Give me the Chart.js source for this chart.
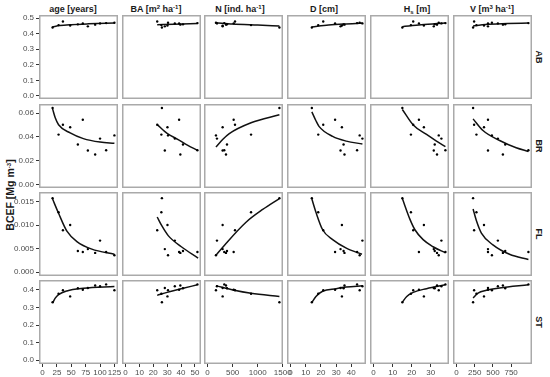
<!DOCTYPE html>
<html><head><meta charset="utf-8">
<script src="https://cdn.jsdelivr.net/npm/chart.js@4.4.0/dist/chart.umd.min.js"></script>
<style>
body{margin:0;width:550px;height:377px;background:#fff;position:relative;overflow:hidden;font-family:"Liberation Sans",Arial,sans-serif;color:#1a1a1a}
canvas{position:absolute}
.ct{position:absolute;top:4px;font-weight:bold;font-size:9px;line-height:11px;transform:translateX(-50%);white-space:nowrap}
.sl{position:absolute;left:539px;font-weight:bold;font-size:9px;line-height:10px;transform:translate(-50%,-50%) rotate(90deg);white-space:nowrap}
.yt{position:absolute;left:10px;top:195px;font-weight:bold;font-size:10.5px;line-height:12px;transform:translate(-50%,-50%) rotate(-90deg);white-space:nowrap}
sup{font-size:6px;vertical-align:3px;line-height:0}
sub{font-size:6px;vertical-align:-2px;line-height:0}
</style>
</head><body>
<div class="ct" style="left:73px">age [years]</div>
<div class="ct" style="left:156px">BA [m<sup>2</sup> ha<sup>-1</sup>]</div>
<div class="ct" style="left:240px">N [ind. ha<sup>-1</sup>]</div>
<div class="ct" style="left:324px">D [cm]</div>
<div class="ct" style="left:417px">H<sub>s</sub> [m]</div>
<div class="ct" style="left:492px">V [m<sup>3</sup> ha<sup>-1</sup>]</div>
<div class="sl" style="top:57px">AB</div>
<div class="sl" style="top:146px">BR</div>
<div class="sl" style="top:234px">FL</div>
<div class="sl" style="top:322px">ST</div>
<div class="yt">BCEF [Mg m<sup>-3</sup>]</div>
<script>
// ---- stand (site) predictors ----
const siteAge = [17.4, 27.8, 35.4, 48, 61.4, 70, 78.8, 91.5, 100, 110.6, 125];
const siteBA  = [26.2, 25.8, 22.8, 30.2, 41.4, 38.6, 28.3, 39.5, 35.5, 51.8, 30.6];
const siteN   = [1433, 867, 547, 300, 387, 520, 300, 367, 187, 333, 167];
const siteD   = [14, 18.2, 21.5, 33.8, 34.9, 29.3, 32.9, 35.5, 47.3, 43.8, 45.5];
const siteHs  = [15.1, 19.6, 20.8, 26.4, 32.1, 23.8, 31.6, 33.3, 35.6, 37.7, 34.2];
const siteV   = [227, 273, 241, 377, 669, 432, 432, 637, 568, 988, 486];

// ---- BCEF per component ----
const bcefAB = [0.440, 0.455, 0.478, 0.452, 0.460, 0.466, 0.447, 0.458, 0.466, 0.468, 0.470];
const bcefBR = [0.0642, 0.0419, 0.0502, 0.0480, 0.0335, 0.0544, 0.0285, 0.0251, 0.0385, 0.0287, 0.0412];
const bcefFL = [0.0157, 0.0127, 0.0089, 0.0100, 0.0045, 0.0043, 0.0049, 0.0041, 0.0067, 0.0043, 0.0036];
const bcefST = [0.329, 0.377, 0.397, 0.362, 0.408, 0.400, 0.410, 0.424, 0.420, 0.430, 0.397];

// ---- fitted curves ----
const fitAB = {
  age: [[17,0.443],[30,0.452],[50,0.458],[80,0.463],[125,0.468]],
  BA:  [[22.8,0.457],[35,0.461],[51.8,0.466]],
  N:   [[167,0.470],[500,0.462],[1000,0.455],[1433,0.449]],
  D:   [[14,0.443],[25,0.455],[35,0.462],[47.3,0.468]],
  Hs:  [[15.1,0.445],[25,0.457],[37.7,0.469]],
  V:   [[227,0.450],[400,0.459],[700,0.465],[988,0.469]]
};
const fitBR = {
  age: [[17.4,0.0635],[22,0.056],[27.8,0.0502],[48,0.0433],[71,0.0385],[100,0.0356],[125,0.0346]],
  BA:  [[22.8,0.0503],[30.2,0.0427],[37.9,0.0377],[44.9,0.0329],[51.8,0.0287]],
  N:   [[167,0.0315],[300,0.0377],[433,0.0427],[867,0.0518],[1433,0.0586]],
  D:   [[14,0.061],[16.7,0.0535],[18.7,0.0488],[27.7,0.0404],[36.7,0.0364],[47.3,0.034]],
  Hs:  [[15.1,0.063],[20.8,0.050],[27.8,0.042],[33,0.0364],[37.7,0.0318]],
  V:   [[227,0.0551],[363,0.0453],[592,0.0369],[820,0.0308],[988,0.0277]]
};
const fitFL = {
  age: [[17.4,0.0155],[27.8,0.0125],[42.3,0.0087],[59.7,0.0065],[85.7,0.0049],[125,0.0038]],
  BA:  [[22.8,0.0117],[26.2,0.0098],[30.9,0.0077],[40.2,0.0054],[52.3,0.0030]],
  N:   [[167,0.0036],[367,0.0061],[767,0.0106],[1100,0.0133],[1433,0.0156]],
  D:   [[14,0.0155],[16.7,0.0127],[21.1,0.0090],[27.7,0.0069],[36.7,0.0051],[47,0.0038]],
  Hs:  [[15.1,0.0156],[19.1,0.0112],[21.7,0.0090],[26,0.0069],[31.2,0.0054],[37.7,0.0041]],
  V:   [[227,0.0134],[273,0.0109],[341,0.0083],[500,0.0058],[728,0.0038],[988,0.0027]]
};
const fitST = {
  age: [[17.4,0.325],[22,0.352],[27.8,0.372],[42.3,0.393],[71,0.408],[125,0.418]],
  BA:  [[22.8,0.368],[30,0.385],[40,0.405],[51.8,0.428]],
  N:   [[167,0.423],[533,0.397],[867,0.380],[1433,0.362]],
  D:   [[14,0.327],[16.7,0.362],[21.1,0.391],[30,0.406],[36.7,0.415],[47.3,0.422]],
  Hs:  [[15.1,0.329],[17.4,0.362],[20.8,0.385],[27.8,0.406],[37.7,0.428]],
  V:   [[227,0.353],[295,0.381],[410,0.397],[592,0.410],[988,0.428]]
};

// ---- axis ticks ----
const xTicksAge = [0,25,50,75,100,125];
const xTicksBA  = [0,10,20,30,40,50];
const xTicksN   = [0,500,1000,1500];
const xTicksD   = [0,10,20,30,40];
const xTicksHs  = [0,10,20,30];
const xTicksV   = [0,250,500,750];
const yTicksAB = [0,0.1,0.2,0.3,0.4,0.5];
const yLabelsAB = ["0.0","0.1","0.2","0.3","0.4","0.5"];
const yTicksBR = [0,0.02,0.04,0.06];
const yLabelsBR = ["0.00","0.02","0.04","0.06"];
const yTicksFL = [0,0.005,0.010,0.015];
const yLabelsFL = ["0.000","0.005","0.010","0.015"];
const yTicksST = [0,0.1,0.2,0.3,0.4];
const yLabelsST = ["0.0","0.1","0.2","0.3","0.4"];

const cols = [
  {key:'age', x:siteAge, ticks:xTicksAge, range:[-6.25,131.25]},
  {key:'BA',  x:siteBA,  ticks:xTicksBA,  range:[-2.59,54.39]},
  {key:'N',   x:siteN,   ticks:xTicksN,   range:[-71.7,1504.7]},
  {key:'D',   x:siteD,   ticks:xTicksD,   range:[-2.37,49.67]},
  {key:'Hs',  x:siteHs,  ticks:xTicksHs,  range:[-1.885,39.585]},
  {key:'V',   x:siteV,   ticks:xTicksV,   range:[-49.4,1037.4]}
];
const rows = [
  {y:bcefAB, fit:fitAB, ticks:yTicksAB, labels:yLabelsAB, range:[-0.02,0.52]},
  {y:bcefBR, fit:fitBR, ticks:yTicksBR, labels:yLabelsBR, range:[-0.003,0.0676]},
  {y:bcefFL, fit:fitFL, ticks:yTicksFL, labels:yLabelsFL, range:[-0.0008,0.017]},
  {y:bcefST, fit:fitST, ticks:yTicksST, labels:yLabelsST, range:[-0.021,0.455]}
];

const PANEL_LEFT = [39,122,204,287,370,453], PANEL_W = 79;
const PANEL_TOP = [15,104,192,280], PANEL_H = 84;
const E = 14, YAX = 39, XAX = 14;
const tickFont = {family:'"Liberation Sans", Arial, sans-serif', size:8};

const panelBorder = {
  id:'panelBorder',
  afterDatasetsDraw(chart){
    const {ctx, chartArea:a} = chart;
    ctx.save();
    ctx.strokeStyle = '#aaaaaa';
    ctx.lineWidth = 1.5;
    ctx.strokeRect(a.left+0.75, a.top+0.75, a.width-1.5, a.height-1.5);
    ctx.restore();
  }
};

rows.forEach((row, r) => cols.forEach((col, c) => {
  const isLeft = c === 0, isBottom = r === rows.length - 1;
  const padL = isLeft ? YAX : E, padB = isBottom ? XAX : E;
  const w = PANEL_W + padL + E, h = PANEL_H + E + padB;
  const cv = document.createElement('canvas');
  cv.width = w; cv.height = h;
  cv.style.width = w + 'px'; cv.style.height = h + 'px';
  cv.style.left = (PANEL_LEFT[c] - padL) + 'px';
  cv.style.top = (PANEL_TOP[r] - E) + 'px';
  document.body.appendChild(cv);
  new Chart(cv, {
    type: 'scatter',
    data: { datasets: [
      { data: col.x.map((v,i)=>({x:v, y:row.y[i]})), pointRadius:1.2, pointHoverRadius:0,
        backgroundColor:'#000', borderWidth:0, order:1 },
      { type:'line', data: row.fit[col.key].map(p=>({x:p[0], y:p[1]})), borderColor:'#111',
        borderWidth:1.5, pointRadius:0, cubicInterpolationMode:'monotone', fill:false, order:2 }
    ]},
    options: {
      responsive:false, maintainAspectRatio:false, animation:false, devicePixelRatio:1, events:[],
      layout: { padding: { left: isLeft ? 0 : E, right:E, top:E, bottom: isBottom ? 0 : E } },
      plugins: { legend:{display:false}, tooltip:{enabled:false} },
      scales: {
        x: {
          type:'linear', min:col.range[0], max:col.range[1], display:isBottom,
          afterFit: isBottom ? (s)=>{ s.height = XAX; } : undefined,
          afterBuildTicks: (s)=>{ s.ticks = col.ticks.map(v=>({value:v})); },
          ticks: { autoSkip:false, maxRotation:0, padding:1, color:'#4d4d4d', font:tickFont,
                   callback:(v)=>String(v) },
          grid: { drawOnChartArea:false, drawTicks:true, tickLength:3, color:'#333333' },
          border: { display:false }
        },
        y: {
          type:'linear', min:row.range[0], max:row.range[1], display:isLeft,
          afterFit: isLeft ? (s)=>{ s.width = YAX; } : undefined,
          afterBuildTicks: (s)=>{ s.ticks = row.ticks.map(v=>({value:v})); },
          ticks: { autoSkip:false, padding:2, color:'#4d4d4d', font:tickFont,
                   callback:(v,i)=>row.labels[i] },
          grid: { drawOnChartArea:false, drawTicks:true, tickLength:3, color:'#333333' },
          border: { display:false }
        }
      }
    },
    plugins:[panelBorder]
  });
}));
</script>
</body></html>
